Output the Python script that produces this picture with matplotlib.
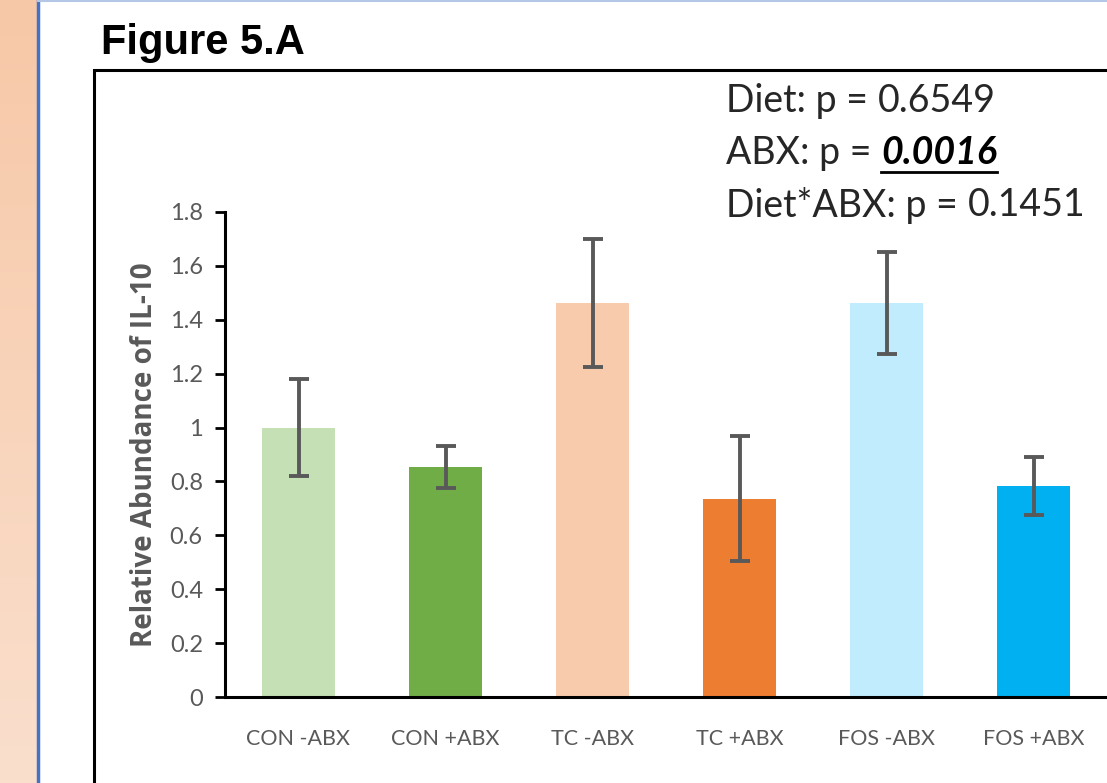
import numpy as np
import matplotlib
matplotlib.use("Agg")
import matplotlib.pyplot as plt
from matplotlib.patches import Rectangle
from matplotlib.lines import Line2D

categories = ["CON -ABX", "CON +ABX", "TC -ABX", "TC +ABX", "FOS -ABX", "FOS +ABX"]
values = [1.0, 0.854, 1.463, 0.735, 1.463, 0.783]
errors = [0.18, 0.078, 0.237, 0.232, 0.19, 0.106]
colors = ["#C5E0B4", "#70AD47", "#F8CBAD", "#ED7D31", "#C1ECFE", "#00B0F0"]
yticks = [0, 0.2, 0.4, 0.6, 0.8, 1, 1.2, 1.4, 1.6, 1.8]
ytick_labels = ["0", "0.2", "0.4", "0.6", "0.8", "1", "1.2", "1.4", "1.6", "1.8"]
stats_lines = [("Diet: p = ", "0.6549", False), ("ABX: p = ", "0.0016", True), ("Diet*ABX: p = ", "0.1451", False)]

W, H = 1107, 783
fig = plt.figure(figsize=(W / 100, H / 100), dpi=100)
fig.patch.set_facecolor("white")

# left peach gradient panel
bg = fig.add_axes([0, 0, 36 / W, 1])
grad = np.linspace(0, 1, 256).reshape(-1, 1)
top = np.array([247, 200, 167]) / 255
bot = np.array([250, 223, 205]) / 255
img = top[None, None, :] * (1 - grad[:, :, None]) + bot[None, None, :] * grad[:, :, None]
bg.imshow(img, aspect="auto", extent=[0, 1, 0, 1])
bg.set_axis_off()
fig.add_artist(Line2D([37.5 / W, 37.5 / W], [0, 1], color="#4472C4", lw=2.5, transform=fig.transFigure))
fig.add_artist(Line2D([37.5 / W, 1], [1 - 1 / H, 1 - 1 / H], color="#B4C7E7", lw=1.5, transform=fig.transFigure))

# black frame box
fig.add_artist(Rectangle((93.5 / W, -0.1), 1.2, (1 - 69.5 / H) + 0.1, fill=False, ec="black", lw=2.2,
                         transform=fig.transFigure))

fig.text(101 / W, 1 - 43 / H, "Figure 5.A", fontsize=30, fontweight="bold", family="Liberation Sans",
         va="center", ha="left", color="black")

ax = fig.add_axes([225 / W, 1 - 697 / H, 1 - 225 / W, (697 - 212) / H])
x = np.arange(len(categories))
ax.bar(x, values, width=0.5, color=colors, zorder=2)
ax.errorbar(x, values, yerr=errors, fmt="none", ecolor="#595959", elinewidth=2.8, capsize=7,
            capthick=2.8, zorder=3)
ax.set_xlim(-0.5, 5.5)
ax.set_ylim(0, 1.8)
ax.set_yticks(yticks)
ax.set_yticklabels(ytick_labels)
ax.set_xticks(x)
ax.set_xticklabels(categories)
for sp in ["top", "right"]:
    ax.spines[sp].set_visible(False)
for sp in ["left", "bottom"]:
    ax.spines[sp].set_linewidth(2.2)
    ax.spines[sp].set_color("black")
ax.tick_params(axis="y", length=7, width=2, color="black", pad=9)
ax.tick_params(axis="x", length=0, pad=23)
for lab in ax.get_yticklabels():
    lab.set_family("Lato")
    lab.set_fontsize(17)
    lab.set_color("#595959")
for lab in ax.get_xticklabels():
    lab.set_family("Lato")
    lab.set_fontsize(15.5)
    lab.set_color("#595959")
ax.set_ylabel("Relative Abundance of IL-10", fontsize=20, fontweight="bold", color="#595959",
              family="Open Sans", ha="center", va="center")
ax.yaxis.set_label_coords(-(225 - 145) / (W - 225), 0.5)

# stats text
fig.canvas.draw()
r = fig.canvas.get_renderer()
ys = [101, 153, 205]
fs = 27
for (pre, val, emph), yy in zip(stats_lines, ys):
    t = fig.text(726 / W, 1 - yy / H, pre, fontsize=fs, family="Lato", color="#262626",
                 va="center", ha="left")
    bb = t.get_window_extent(r)
    if emph:
        t2 = fig.text(bb.x1 / W, 1 - yy / H, val, fontsize=fs, family="Lato", color="black",
                      fontweight="bold", style="italic", va="center", ha="left")
        bb2 = t2.get_window_extent(r)
        uy = (H - yy - 19) / H
        fig.add_artist(Line2D([bb2.x0 / W, bb2.x1 / W], [uy, uy], color="black", lw=2,
                              transform=fig.transFigure))
    else:
        fig.text(bb.x1 / W, 1 - yy / H, val, fontsize=fs, family="Lato", color="#262626",
                 va="center", ha="left")

fig.savefig("out.png", dpi=100)
